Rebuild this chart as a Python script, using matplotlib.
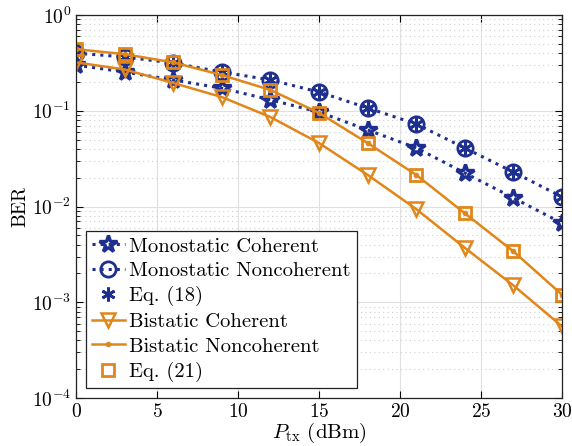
import matplotlib
matplotlib.use("Agg")
import matplotlib.pyplot as plt
import numpy as np

plt.rcParams['font.family'] = 'serif'
plt.rcParams['font.serif'] = ['cmr10', 'DejaVu Serif']
plt.rcParams['mathtext.fontset'] = 'cm'
plt.rcParams['axes.formatter.use_mathtext'] = True

ptx = [0, 3, 6, 9, 12, 15, 18, 21, 24, 27, 30]
mono_coh = [0.30, 0.254, 0.21, 0.172, 0.13, 0.097, 0.063, 0.041, 0.0224, 0.0123, 0.0067]
mono_noncoh = [0.40, 0.365, 0.315, 0.254, 0.21, 0.157, 0.107, 0.0728, 0.0408, 0.0229, 0.0126]
eq18 = mono_noncoh
bi_coh = [0.32, 0.27, 0.195, 0.139, 0.086, 0.046, 0.0214, 0.0094, 0.0037, 0.0015, 0.00056]
bi_noncoh = [0.44, 0.39, 0.32, 0.236, 0.165, 0.095, 0.046, 0.0214, 0.0085, 0.0034, 0.0012]
eq21 = bi_noncoh

blue = '#1F2F8F'
orange = '#E0861A'

fig = plt.figure(figsize=(5.72, 4.46), dpi=100)
ax = fig.add_axes([0.133, 0.1076, 0.8495, 0.8587])

ax.plot(ptx, mono_coh, linestyle=':', color=blue, lw=2.2, marker='*', ms=13,
        mfc='none', mew=2.4, label='Monostatic Coherent')
ax.plot(ptx, mono_noncoh, linestyle=':', color=blue, lw=2.2, marker='o', ms=11,
        mfc='none', mew=2, label='Monostatic Noncoherent')
ax.plot(ptx, eq18, linestyle='none', color=blue, marker=(6, 2, 0), ms=10,
        mew=2, label='Eq. (18)')
ax.plot(ptx, bi_coh, linestyle='-', color=orange, lw=1.8, marker='v', ms=10,
        mfc='none', mew=1.8, label='Bistatic Coherent')
ax.plot(ptx, bi_noncoh, linestyle='-', color=orange, lw=1.8, marker='.', ms=6,
        label='Bistatic Noncoherent')
ax.plot(ptx, eq21, linestyle='none', color=orange, marker='s', ms=9,
        mfc='none', mew=2, label='Eq. (21)')

ax.set_yscale('log')
ax.set_xlim(0, 30)
ax.set_ylim(1e-4, 1)
ax.set_xticks([0, 5, 10, 15, 20, 25, 30])
ax.grid(True, which='major', color='#E0E0E0', lw=0.8, linestyle='-')
ax.grid(True, which='minor', axis='y', color='#D0D0D0', lw=0.8, linestyle=(0, (1, 3)))
ax.tick_params(which='both', direction='in', top=True, right=True, labelsize=14)
ax.tick_params(which='major', length=5)
ax.tick_params(which='minor', length=3)
for s in ax.spines.values():
    s.set_linewidth(0.9)
    s.set_color('#222222')

ax.set_xlabel(r'$P_\mathrm{tx}$ (dBm)', fontsize=15, labelpad=0)
ax.set_ylabel('BER', fontsize=14, labelpad=2)

leg = ax.legend(loc='lower left', bbox_to_anchor=(0.02, 0.026), borderaxespad=0,
                fontsize=14.8, fancybox=False, edgecolor='#222222', framealpha=1,
                handlelength=1.6, handletextpad=0.2, borderpad=0.3, labelspacing=0.3)
leg.get_frame().set_linewidth(0.9)

fig.savefig('out.png', dpi=100)
